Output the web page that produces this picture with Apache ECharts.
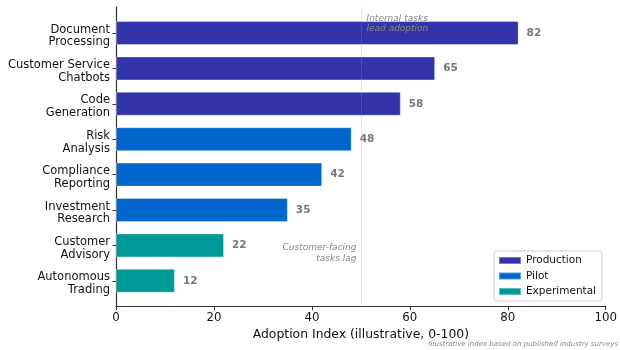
<!DOCTYPE html>
<html>
<head>
<meta charset="utf-8">
<script src="https://cdn.jsdelivr.net/npm/echarts@6/dist/echarts.min.js"></script>
<style>html,body{margin:0;padding:0;background:#fff}#c{width:620px;height:350px}</style>
</head>
<body>
<div id="c"></div>
<script>
const categories = ['Document\nProcessing','Customer Service\nChatbots','Code\nGeneration','Risk\nAnalysis','Compliance\nReporting','Investment\nResearch','Customer\nAdvisory','Autonomous\nTrading'];
const values = [82, 65, 58, 48, 42, 35, 22, 12];
const stages = ['Production','Production','Production','Pilot','Pilot','Pilot','Experimental','Experimental'];
const groups = ['Production','Pilot','Experimental'];
const groupColors = {Production:'#3333AA', Pilot:'#0066CC', Experimental:'#009999'};
const xTicks = {min:0, max:100, interval:20};
const refLine = 50;
const notes = [
  {text:'Internal tasks\nlead adoption', cat:0, side:'right', dy:-9.5},
  {text:'Customer-facing\ntasks lag', cat:6, side:'left', dy:8}
];
const xName = 'Adoption Index (illustrative, 0-100)';
const footnote = 'Illustrative index based on published industry surveys';

const FONT = 'DejaVu Sans';
const barSeries = groups.map(g => ({
  name: g, type:'bar', stack:'all', xAxisIndex:0, yAxisIndex:0,
  barWidth: 24,
  itemStyle:{color:groupColors[g], borderColor:'rgba(255,255,255,0.35)', borderWidth:1},
  label:{show:true, position:'right', distance:8, color:'#777', fontWeight:'bold', fontSize:10.5, fontFamily:FONT,
    formatter: p => p.value == null ? '' : String(p.value)},
  data: values.map((v,i) => stages[i] === g ? v : null)
}));

const option = {
  animation:false,
  textStyle:{fontFamily:FONT},
  title:{text:footnote, right:2, top:341, padding:0, textStyle:{fontSize:7, fontStyle:'italic', fontWeight:'normal', color:'#888', fontFamily:FONT}},
  legend:{data:groups, orient:'vertical', right:18, top:251, padding:[3,6,3,4], itemWidth:22, itemHeight:7, itemGap:2.5,
    icon:'rect', borderColor:'#ccc', borderWidth:1, borderRadius:3, backgroundColor:'#fff',
    textStyle:{fontSize:10.5, lineHeight:13, color:'#111', fontFamily:FONT}},
  grid:[
    {left:116, right:13, top:15.3, bottom:51.5},
    {left:116, right:13, top:7, bottom:43.5}
  ],
  xAxis:[
    {gridIndex:0, type:'value', min:xTicks.min, max:xTicks.max, interval:xTicks.interval, show:false},
    {gridIndex:1, type:'value', min:xTicks.min, max:xTicks.max, interval:xTicks.interval,
      axisLine:{show:true, lineStyle:{color:'#333', width:1.2}},
      axisTick:{show:true, length:3.5, lineStyle:{color:'#333'}},
      axisLabel:{fontSize:11.8, color:'#111', margin:5, fontFamily:FONT},
      splitLine:{show:false},
      name:xName, nameLocation:'middle', nameGap:19, nameTextStyle:{fontSize:12.4, color:'#111', fontFamily:FONT}}
  ],
  yAxis:[
    {gridIndex:0, type:'category', data:categories, inverse:true,
      axisLine:{show:false},
      axisTick:{show:true, alignWithLabel:true, length:3.5, lineStyle:{color:'#333'}},
      axisLabel:{margin:6, align:'right', fontFamily:FONT,
        formatter: v => '{sp| }\n' + v.split('\n').map(s => '{a|' + s + '}').join('\n'),
        rich:{
          sp:{fontSize:4, lineHeight:6},
          a:{fontSize:11.5, lineHeight:12.8, color:'#111', fontFamily:FONT, align:'right'}
        }}},
    {gridIndex:1, type:'value', min:0, max:1, axisLine:{show:true, lineStyle:{color:'#333', width:1.2}},
      axisTick:{show:false}, axisLabel:{show:false}, splitLine:{show:false}}
  ],
  series: barSeries.concat([
    {type:'line', xAxisIndex:1, yAxisIndex:1, data:[], z:5, silent:true,
      markLine:{symbol:'none', silent:true, label:{show:false},
        lineStyle:{color:'rgba(160,160,160,0.5)', type:'dotted', width:1},
        data:[{xAxis:refLine}]}},
    {type:'scatter', xAxisIndex:0, yAxisIndex:0, data:[], silent:true,
      markPoint:{symbol:'circle', symbolSize:0, silent:true,
        data: notes.map(n => ({coord:[refLine, n.cat],
          label:{show:true, position:n.side, distance:5, offset:[0,n.dy], formatter:n.text,
            align:n.side==='right'?'left':'right',
            fontSize:9, lineHeight:10.5, fontStyle:'italic', color:'#888', fontFamily:FONT}}))}}
  ])
};
echarts.init(document.getElementById('c'), null, {renderer:'canvas'}).setOption(option);
</script>
</body>
</html>
